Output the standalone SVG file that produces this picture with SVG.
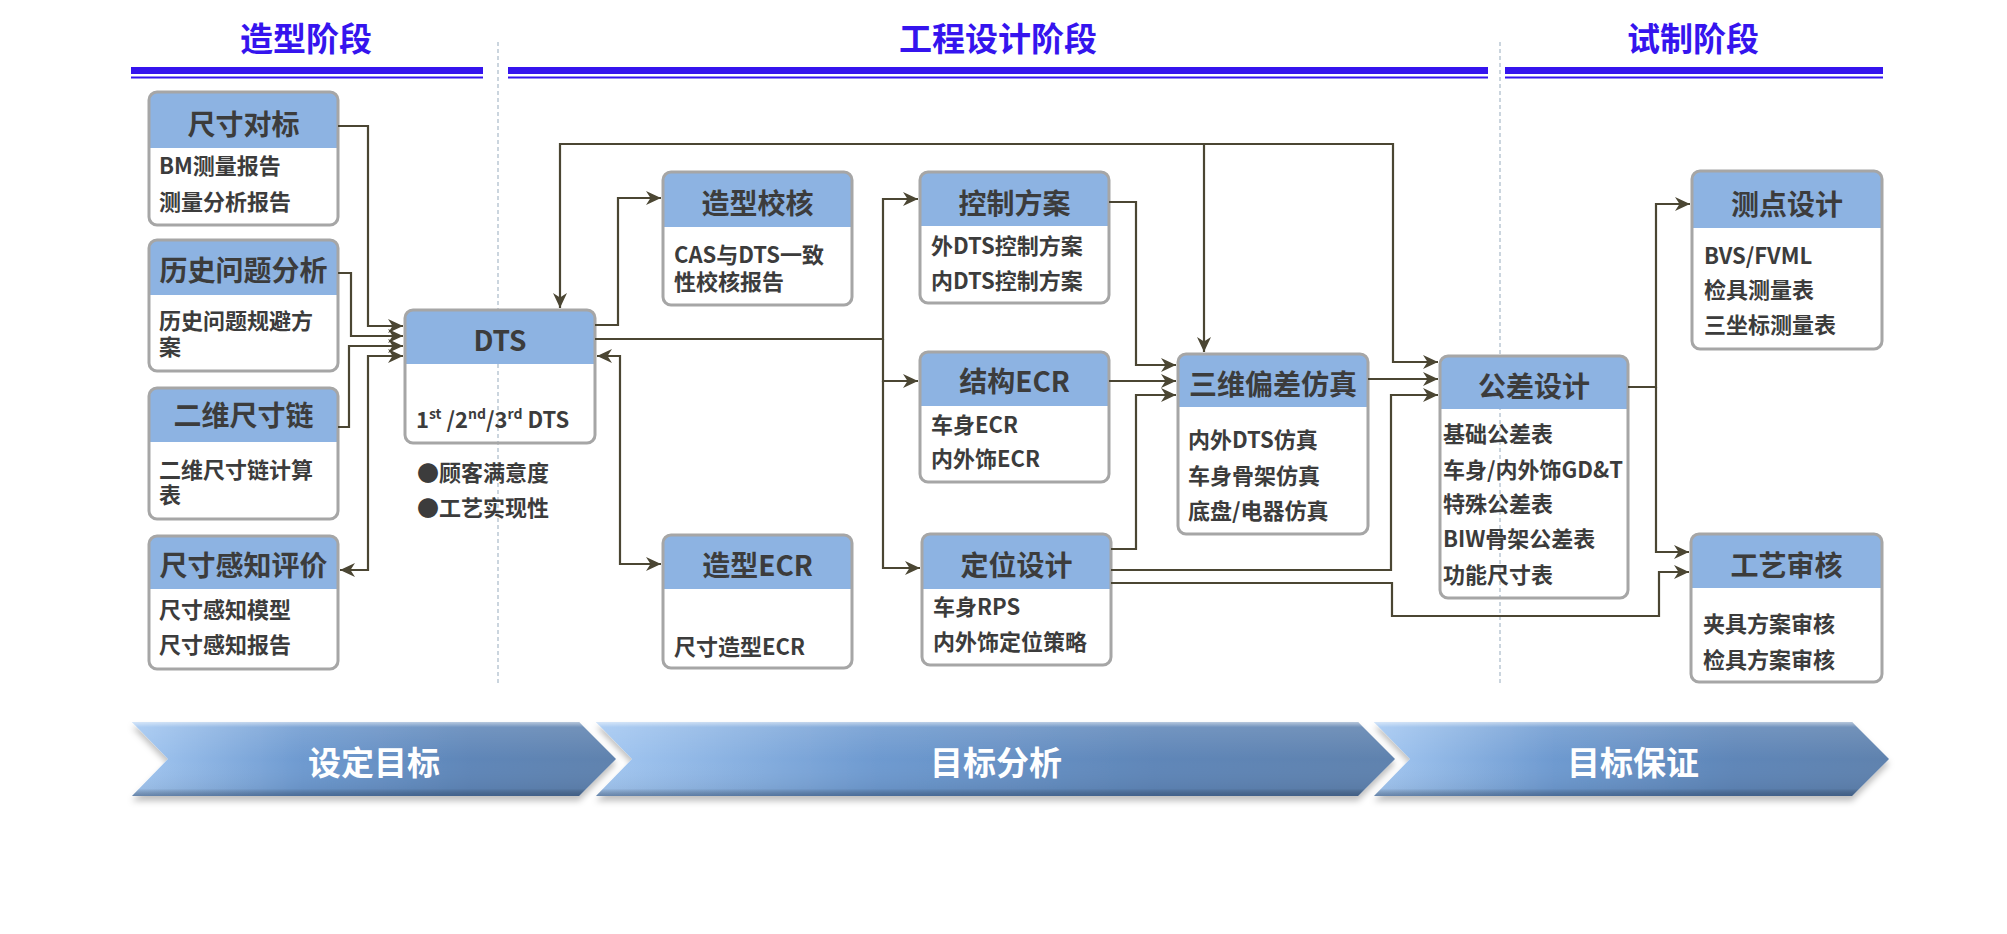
<svg xmlns="http://www.w3.org/2000/svg" width="2007" height="934" viewBox="0 0 2007 934">
<style>
.phase{font-family:"Noto Sans CJK SC","Noto Sans",sans-serif;font-weight:bold;font-size:33px;fill:#3514EE;text-anchor:middle}
.hd{font-family:"Noto Sans CJK SC","Noto Sans",sans-serif;font-weight:bold;font-size:28px;fill:#3C3C3C;text-anchor:middle}
.bd{font-family:"Noto Sans CJK SC","Noto Sans",sans-serif;font-weight:bold;font-size:22px;fill:#3C3C3C}
.hfill{fill:#8DB3E2}
.frame{fill:none;stroke:#A6A6A6;stroke-width:3}
.conn path{fill:none;stroke:#4B4633;stroke-width:2.2}
.bar{fill:#3514EE}
.dash{stroke:#A9BAC9;stroke-width:1.2;stroke-dasharray:4 3}
.chev{fill:url(#chevGrad);filter:url(#shadow)}
.chevGloss{fill:url(#chevGloss)}
.ct{font-family:"Noto Sans CJK SC","Noto Sans",sans-serif;font-weight:bold;font-size:33px;fill:#FFFFFF;text-anchor:middle}
</style>
<defs>
<marker id="arr" markerUnits="userSpaceOnUse" markerWidth="16" markerHeight="14" refX="15" refY="7" orient="auto-start-reverse">
<path d="M0,0 L15,7 L0,14 L4.5,7 Z" fill="#4B4633"/>
</marker>
<linearGradient id="chevGrad" x1="0" y1="0" x2="1" y2="0">
<stop offset="0" stop-color="#A4C8F2"/>
<stop offset="0.35" stop-color="#6E9AD0"/>
<stop offset="0.7" stop-color="#5F86B8"/>
<stop offset="1" stop-color="#5E82AE"/>
</linearGradient>
<linearGradient id="chevGloss" x1="0" y1="0" x2="0" y2="1">
<stop offset="0" stop-color="#FFFFFF" stop-opacity="0.55"/>
<stop offset="0.07" stop-color="#FFFFFF" stop-opacity="0.12"/>
<stop offset="0.5" stop-color="#FFFFFF" stop-opacity="0"/>
<stop offset="0.9" stop-color="#000000" stop-opacity="0.05"/>
<stop offset="1" stop-color="#1E3556" stop-opacity="0.45"/>
</linearGradient>
<filter id="shadow" x="-5%" y="-20%" width="110%" height="160%">
<feDropShadow dx="0" dy="5" stdDeviation="3" flood-color="#000000" flood-opacity="0.25"/>
</filter>
</defs>
<rect width="2007" height="934" fill="#FFFFFF"/>

<g id="phase-headers">
<text class="phase" x="306" y="51">造型阶段</text>
<text class="phase" x="998" y="51">工程设计阶段</text>
<text class="phase" x="1693" y="51">试制阶段</text>
<rect class="bar" x="131" y="67" width="352" height="7"/>
<rect class="bar" x="131" y="76.5" width="352" height="2"/>
<rect class="bar" x="508" y="67" width="980" height="7"/>
<rect class="bar" x="508" y="76.5" width="980" height="2"/>
<rect class="bar" x="1505" y="67" width="378" height="7"/>
<rect class="bar" x="1505" y="76.5" width="378" height="2"/>
<line class="dash" x1="498" y1="42" x2="498" y2="683"/>
<line class="dash" x1="1500" y1="42" x2="1500" y2="683"/>
</g>

<g id="node-chicun-duibiao">
<path class="hfill" d="M149,148 V100 Q149,92 157,92 H330 Q338,92 338,100 V148 Z"/>
<rect class="frame" x="149" y="92" width="189" height="133" rx="8"/>
<text class="hd" x="243.5" y="135">尺寸对标</text>
<text class="bd" x="159" y="174">BM测量报告</text>
<text class="bd" x="159" y="210">测量分析报告</text>
</g>

<g id="node-lishi-wenti">
<path class="hfill" d="M149,295 V248 Q149,240 157,240 H330 Q338,240 338,248 V295 Z"/>
<rect class="frame" x="149" y="240" width="189" height="131" rx="8"/>
<text class="hd" x="243.5" y="281">历史问题分析</text>
<text class="bd" x="159" y="329">历史问题规避方</text>
<text class="bd" x="159" y="355">案</text>
</g>

<g id="node-erwei-chicunlian">
<path class="hfill" d="M149,442 V396 Q149,388 157,388 H330 Q338,388 338,396 V442 Z"/>
<rect class="frame" x="149" y="388" width="189" height="131" rx="8"/>
<text class="hd" x="243.5" y="426">二维尺寸链</text>
<text class="bd" x="159" y="478">二维尺寸链计算</text>
<text class="bd" x="159" y="503">表</text>
</g>

<g id="node-ganzhi-pingjia">
<path class="hfill" d="M149,589 V544 Q149,536 157,536 H330 Q338,536 338,544 V589 Z"/>
<rect class="frame" x="149" y="536" width="189" height="133" rx="8"/>
<text class="hd" x="243.5" y="576">尺寸感知评价</text>
<text class="bd" x="159" y="618">尺寸感知模型</text>
<text class="bd" x="159" y="653">尺寸感知报告</text>
</g>

<g id="node-dts">
<path class="hfill" d="M405,364 V318 Q405,310 413,310 H587 Q595,310 595,318 V364 Z"/>
<rect class="frame" x="405" y="310" width="190" height="133" rx="8"/>
<text class="hd" x="500" y="351">DTS</text>
<text class="bd" x="416" y="428">1<tspan dy="-9" font-size="14">st</tspan><tspan dy="9"> /2</tspan><tspan dy="-9" font-size="14">nd</tspan><tspan dy="9">/3</tspan><tspan dy="-9" font-size="14">rd</tspan><tspan dy="9"> DTS</tspan></text>
<text class="bd" x="417" y="481">●顾客满意度</text>
<text class="bd" x="417" y="516">●工艺实现性</text>
</g>

<g id="node-zaoxing-jiaohe">
<path class="hfill" d="M663,227 V180 Q663,172 671,172 H844 Q852,172 852,180 V227 Z"/>
<rect class="frame" x="663" y="172" width="189" height="133" rx="8"/>
<text class="hd" x="757.5" y="214">造型校核</text>
<text class="bd" x="674" y="263">CAS与DTS一致</text>
<text class="bd" x="674" y="290">性校核报告</text>
</g>

<g id="node-zaoxing-ecr">
<path class="hfill" d="M663,589 V543 Q663,535 671,535 H844 Q852,535 852,543 V589 Z"/>
<rect class="frame" x="663" y="535" width="189" height="133" rx="8"/>
<text class="hd" x="757.5" y="576">造型ECR</text>
<text class="bd" x="674" y="655">尺寸造型ECR</text>
</g>

<g id="node-kongzhi-fangan">
<path class="hfill" d="M920,226 V180 Q920,172 928,172 H1101 Q1109,172 1109,180 V226 Z"/>
<rect class="frame" x="920" y="172" width="189" height="131" rx="8"/>
<text class="hd" x="1014.5" y="214">控制方案</text>
<text class="bd" x="931" y="254">外DTS控制方案</text>
<text class="bd" x="931" y="289">内DTS控制方案</text>
</g>

<g id="node-jiegou-ecr">
<path class="hfill" d="M920,406 V360 Q920,352 928,352 H1101 Q1109,352 1109,360 V406 Z"/>
<rect class="frame" x="920" y="352" width="189" height="130" rx="8"/>
<text class="hd" x="1014.5" y="392">结构ECR</text>
<text class="bd" x="931" y="433">车身ECR</text>
<text class="bd" x="931" y="467">内外饰ECR</text>
</g>

<g id="node-dingwei-sheji">
<path class="hfill" d="M922,589 V542 Q922,534 930,534 H1103 Q1111,534 1111,542 V589 Z"/>
<rect class="frame" x="922" y="534" width="189" height="131" rx="8"/>
<text class="hd" x="1016.5" y="576">定位设计</text>
<text class="bd" x="933" y="615">车身RPS</text>
<text class="bd" x="933" y="650">内外饰定位策略</text>
</g>

<g id="node-sanwei-pianchafangzhen">
<path class="hfill" d="M1178,407 V362 Q1178,354 1186,354 H1360 Q1368,354 1368,362 V407 Z"/>
<rect class="frame" x="1178" y="354" width="190" height="180" rx="8"/>
<text class="hd" x="1273" y="395">三维偏差仿真</text>
<text class="bd" x="1188" y="448">内外DTS仿真</text>
<text class="bd" x="1188" y="484">车身骨架仿真</text>
<text class="bd" x="1188" y="519">底盘/电器仿真</text>
</g>

<g id="node-gongcha-sheji">
<path class="hfill" d="M1440,409 V364 Q1440,356 1448,356 H1620 Q1628,356 1628,364 V409 Z"/>
<rect class="frame" x="1440" y="356" width="188" height="242" rx="8"/>
<text class="hd" x="1534" y="397">公差设计</text>
<text class="bd" x="1443" y="442">基础公差表</text>
<text class="bd" x="1443" y="478">车身/内外饰GD&amp;T</text>
<text class="bd" x="1443" y="512">特殊公差表</text>
<text class="bd" x="1443" y="547">BIW骨架公差表</text>
<text class="bd" x="1443" y="583">功能尺寸表</text>
</g>

<g id="node-cedian-sheji">
<path class="hfill" d="M1692,228 V179 Q1692,171 1700,171 H1874 Q1882,171 1882,179 V228 Z"/>
<rect class="frame" x="1692" y="171" width="190" height="178" rx="8"/>
<text class="hd" x="1787" y="215">测点设计</text>
<text class="bd" x="1704" y="264">BVS/FVML</text>
<text class="bd" x="1704" y="298">检具测量表</text>
<text class="bd" x="1704" y="333">三坐标测量表</text>
</g>

<g id="node-gongyi-shenhe">
<path class="hfill" d="M1691,588 V542 Q1691,534 1699,534 H1874 Q1882,534 1882,542 V588 Z"/>
<rect class="frame" x="1691" y="534" width="191" height="148" rx="8"/>
<text class="hd" x="1786.5" y="576">工艺审核</text>
<text class="bd" x="1703" y="632">夹具方案审核</text>
<text class="bd" x="1703" y="668">检具方案审核</text>
</g>

<g id="connectors" class="conn">
<path d="M338,126 H368 V326 H403" marker-end="url(#arr)"/>
<path d="M338,273 H351 V336 H403" marker-end="url(#arr)"/>
<path d="M338,427 H349 V346 H403" marker-end="url(#arr)"/>
<path d="M340,570 H368 V356 H403" marker-start="url(#arr)" marker-end="url(#arr)"/>
<path d="M595,325 H618 V198 H661" marker-end="url(#arr)"/>
<path d="M595,339 H883 V199 H918" marker-end="url(#arr)"/>
<path d="M883,339 V381 H918" marker-end="url(#arr)"/>
<path d="M883,381 V568 H920" marker-end="url(#arr)"/>
<path d="M597,356 H620 V564 H661" marker-start="url(#arr)" marker-end="url(#arr)"/>
<path d="M560,308 V144 H1393 V362 H1438" marker-start="url(#arr)" marker-end="url(#arr)"/>
<path d="M1204,144 V352" marker-end="url(#arr)"/>
<path d="M1109,202 H1136 V365 H1176" marker-end="url(#arr)"/>
<path d="M1109,381 H1176" marker-end="url(#arr)"/>
<path d="M1111,549 H1136 V395 H1176" marker-end="url(#arr)"/>
<path d="M1368,379 H1438" marker-end="url(#arr)"/>
<path d="M1111,570 H1391 V395 H1438" marker-end="url(#arr)"/>
<path d="M1111,583 H1392 V616 H1659 V572 H1689" marker-end="url(#arr)"/>
<path d="M1628,387 H1656 V204 H1690" marker-end="url(#arr)"/>
<path d="M1656,387 V552 H1689" marker-end="url(#arr)"/>
</g>

<g id="stage-chevrons">
<polygon class="chev" points="132,722 579,722 616,759 579,796 132,796 168,759"/>
<polygon class="chevGloss" points="132,722 579,722 616,759 579,796 132,796 168,759"/>
<text class="ct" x="374" y="775">设定目标</text>
<polygon class="chev" points="596,722 1358,722 1395,759 1358,796 596,796 632,759"/>
<polygon class="chevGloss" points="596,722 1358,722 1395,759 1358,796 596,796 632,759"/>
<text class="ct" x="996" y="775">目标分析</text>
<polygon class="chev" points="1374,722 1852,722 1889,759 1852,796 1374,796 1410,759"/>
<polygon class="chevGloss" points="1374,722 1852,722 1889,759 1852,796 1374,796 1410,759"/>
<text class="ct" x="1633" y="775">目标保证</text>
</g>
</svg>
